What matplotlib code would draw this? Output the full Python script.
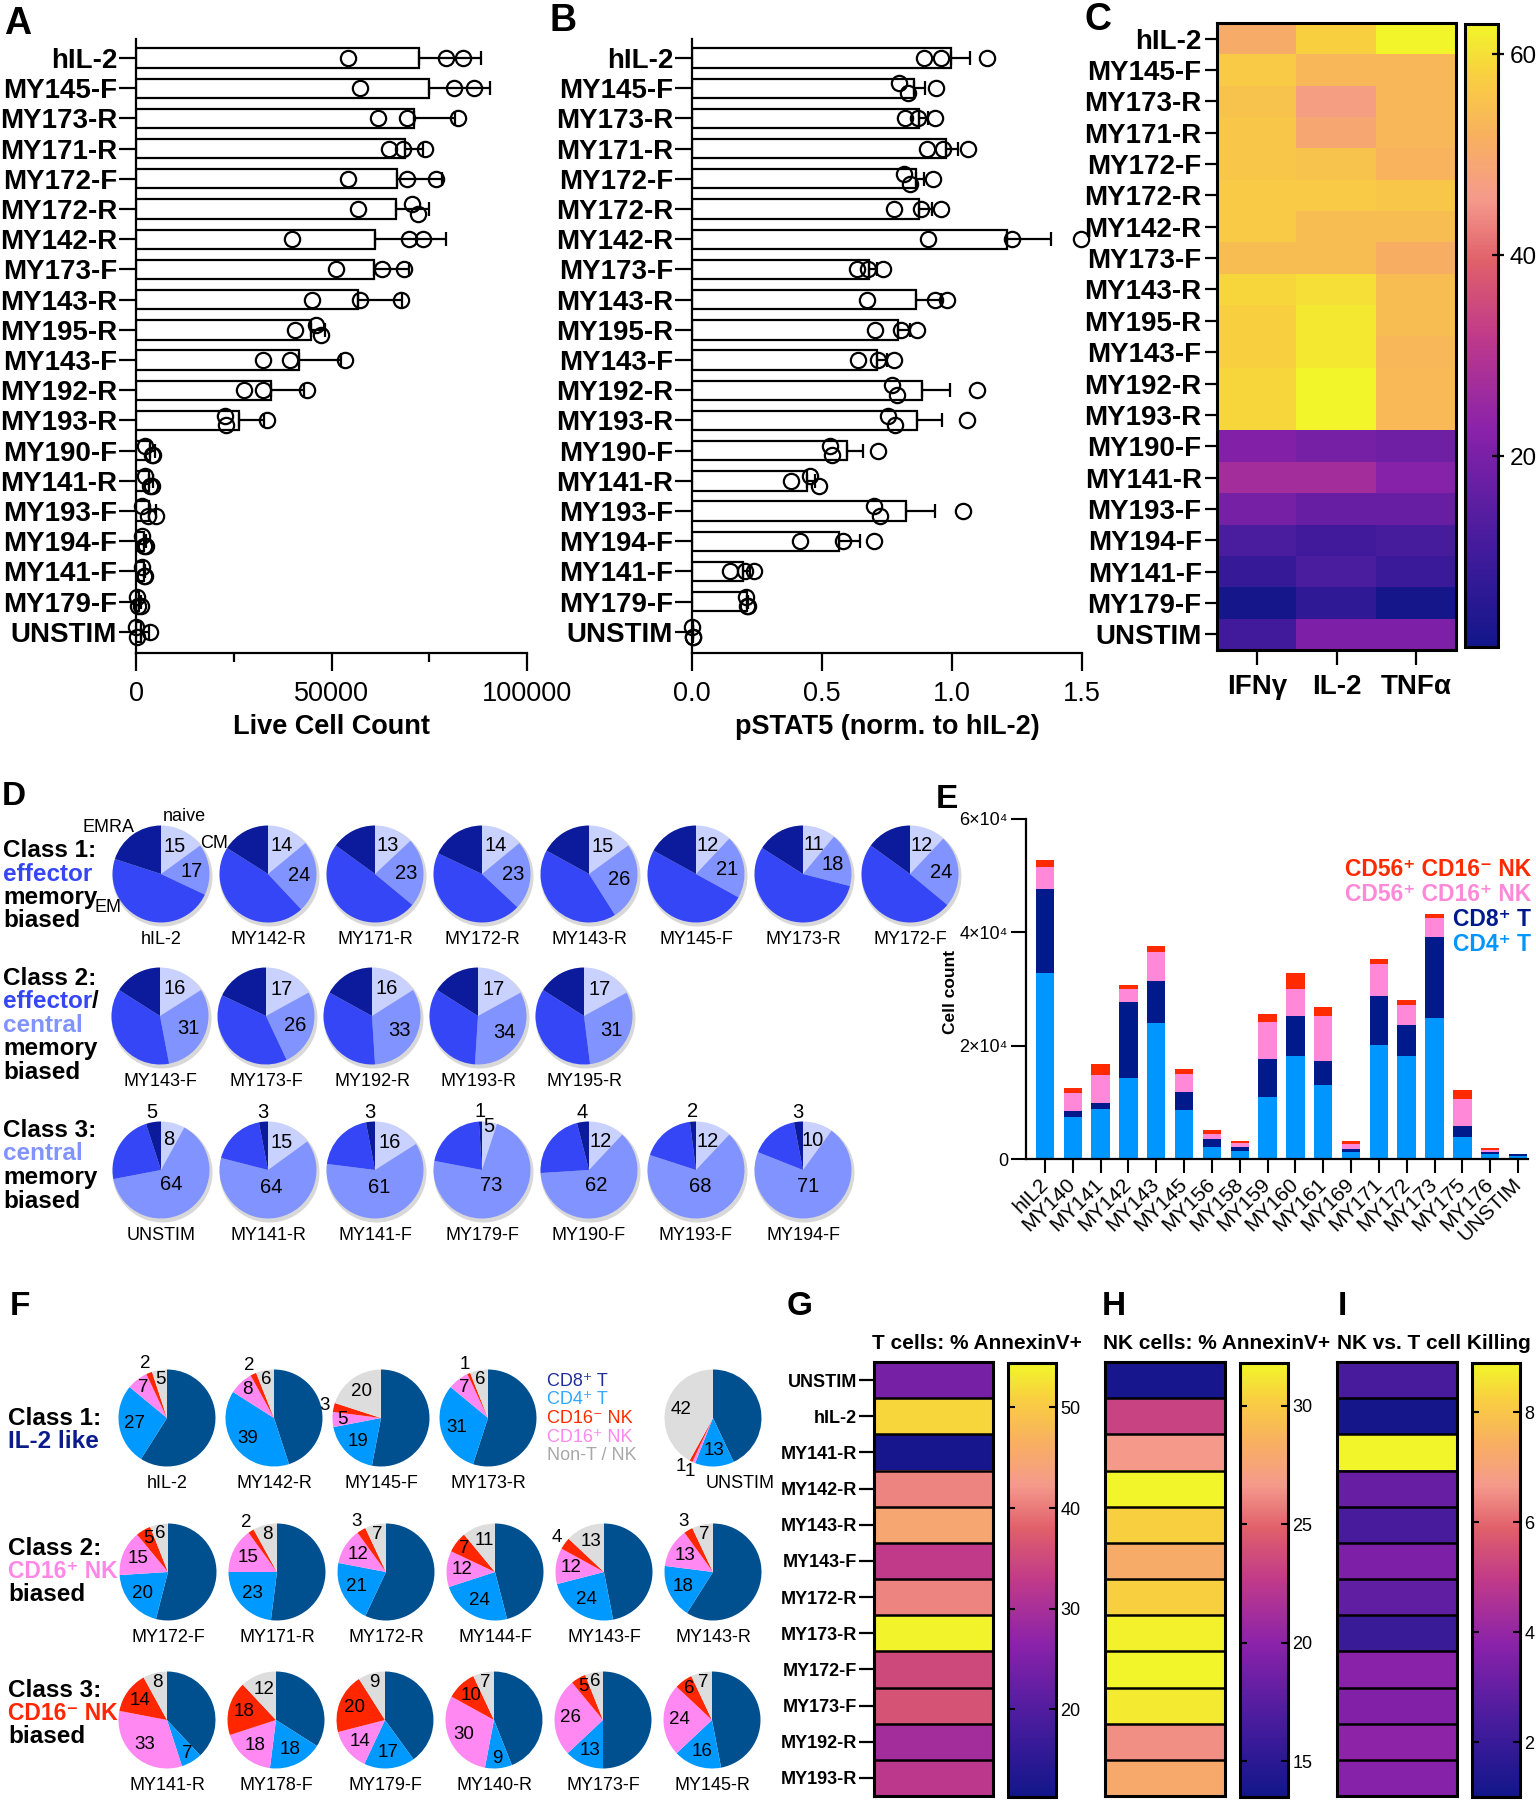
import numpy as np
import matplotlib
matplotlib.use('Agg')
import matplotlib.pyplot as plt
from matplotlib.colors import LinearSegmentedColormap
from matplotlib.patches import Circle

plt.rcParams['font.family'] = ['Liberation Sans', 'DejaVu Sans']
plt.rcParams['axes.linewidth'] = 1.6

W, H = 1536, 1800

# ---------------- data: panels A-C ----------------
agonists = ['hIL-2', 'MY145-F', 'MY173-R', 'MY171-R', 'MY172-F', 'MY172-R',
            'MY142-R', 'MY173-F', 'MY143-R', 'MY195-R', 'MY143-F', 'MY192-R',
            'MY193-R', 'MY190-F', 'MY141-R', 'MY193-F', 'MY194-F', 'MY141-F',
            'MY179-F', 'UNSTIM']

# three replicates per agonist
live_cells = [
    [54100, 79300, 83600], [57300, 81300, 86500], [61800, 69200, 82300],
    [64700, 68200, 73800], [54100, 69200, 76700], [56900, 70600, 72100],
    [40000, 69700, 73300], [51100, 63000, 68500], [45000, 57300, 67700],
    [40600, 46100, 47300], [32600, 39400, 53400], [27700, 32400, 43800],
    [22800, 23000, 33600], [2300, 4100, 4400], [2300, 3700, 4100],
    [1600, 3000, 5200], [1600, 2100, 2600], [1600, 2000, 2300],
    [300, 600, 1200], [0, 300, 3700],
]
pstat5 = [
    [0.894, 0.957, 1.136], [0.796, 0.830, 0.937], [0.820, 0.868, 0.933],
    [0.905, 0.967, 1.063], [0.816, 0.840, 0.926], [0.778, 0.881, 0.957],
    [0.908, 1.230, 1.495], [0.635, 0.675, 0.734], [0.672, 0.936, 0.981],
    [0.702, 0.805, 0.867], [0.638, 0.716, 0.775], [0.768, 0.789, 1.097],
    [0.754, 0.782, 1.056], [0.531, 0.539, 0.717], [0.380, 0.455, 0.490],
    [0.700, 0.724, 1.043], [0.414, 0.579, 0.700], [0.147, 0.202, 0.240],
    [0.206, 0.213, 0.215], [0.000, 0.003, 0.005],
]
cyto_names = ['IFNγ', 'IL-2', 'TNFα']
cyto_pct = [
    [50.6, 58.0, 63.0], [56.8, 53.1, 53.1], [55.6, 46.9, 53.1],
    [56.2, 49.4, 53.1], [56.2, 55.6, 52.5], [56.8, 56.8, 56.2],
    [56.8, 54.3, 54.3], [54.3, 54.3, 51.2], [58.7, 59.9, 54.3],
    [58.0, 61.1, 54.3], [58.0, 61.1, 53.1], [58.7, 63.0, 53.7],
    [58.7, 63.0, 53.7], [21.5, 19.6, 18.4], [27.0, 27.0, 22.1],
    [19.6, 17.1, 17.1], [12.2, 10.3, 11.5], [8.4, 12.2, 9.1],
    [2.2, 7.2, 1.6], [10.3, 20.8, 20.8],
]

# ---------------- data: panel D (naive, CM, EM, EMRA %) ----------------
mem_colors = ['#c9d1ff', '#8193ff', '#3546f7', '#0b1b9b']
mem_c1_names = ['hIL-2', 'MY142-R', 'MY171-R', 'MY172-R', 'MY143-R', 'MY145-F', 'MY173-R', 'MY172-F']
mem_c1 = [[15, 17, 48, 20], [14, 24, 46, 16], [13, 23, 49, 15], [14, 23, 45, 18],
          [15, 26, 42, 17], [12, 21, 50, 17], [11, 18, 55, 16], [12, 24, 49, 15]]
mem_c2_names = ['MY143-F', 'MY173-F', 'MY192-R', 'MY193-R', 'MY195-R']
mem_c2 = [[16, 31, 37, 16], [17, 26, 39, 18], [16, 33, 34, 17], [17, 34, 33, 16], [17, 31, 36, 16]]
mem_c3_names = ['UNSTIM', 'MY141-R', 'MY141-F', 'MY179-F', 'MY190-F', 'MY193-F', 'MY194-F']
mem_c3 = [[8, 64, 23, 5], [15, 64, 18, 3], [16, 61, 20, 3], [5, 73, 21, 1],
          [12, 62, 22, 4], [12, 68, 18, 2], [10, 71, 16, 3]]

# ---------------- data: panel E (cell counts) ----------------
e_samples = ['hIL2', 'MY140', 'MY141', 'MY142', 'MY143', 'MY145', 'MY156', 'MY158', 'MY159',
             'MY160', 'MY161', 'MY169', 'MY171', 'MY172', 'MY173', 'MY175', 'MY176', 'UNSTIM']
e_cd4 = [32900, 7500, 8800, 14300, 24000, 8700, 2200, 1500, 11000, 18200, 13100, 1300,
         20100, 18100, 24900, 3900, 900, 600]
e_cd8 = [14700, 1000, 1150, 13400, 7400, 3100, 1300, 700, 6600, 7100, 4200, 500,
         8600, 5500, 14300, 2000, 300, 200]
e_nk16p = [4000, 3100, 4850, 2300, 5100, 3200, 1000, 600, 6500, 4700, 8000, 900,
           5700, 3500, 3300, 4700, 400, 50]
e_nk16n = [1200, 1000, 2000, 700, 1000, 800, 600, 400, 1500, 2800, 1500, 400,
           900, 900, 700, 1600, 400, 100]
e_labels = ['CD4⁺ T', 'CD8⁺ T', 'CD56⁺ CD16⁺ NK', 'CD56⁺ CD16⁻ NK']
e_colors = ['#0096ff', '#001a8c', '#ff88d8', '#ff2a00']

# ---------------- data: panel F (CD8, CD4, CD16+ NK, CD16- NK, non-T/NK %) ----------------
pop_colors = ['#00508f', '#0099ff', '#ff88f2', '#ff2600', '#dddddd']
pop_text_colors = ['#1f2d9c', '#33a6ff', '#ff2a00', '#ff88ee', '#a8a8a8']
pop_legend = ['CD8⁺ T', 'CD4⁺ T', 'CD16⁻ NK', 'CD16⁺ NK', 'Non-T / NK']
pop_c1_names = ['hIL-2', 'MY142-R', 'MY145-F', 'MY173-R']
pop_c1 = [[59, 27, 7, 2, 5], [45, 39, 8, 2, 6], [53, 19, 5, 3, 20], [55, 31, 7, 1, 6]]
pop_unstim = [43, 13, 1, 1, 42]
pop_c2_names = ['MY172-F', 'MY171-R', 'MY172-R', 'MY144-F', 'MY143-F', 'MY143-R']
pop_c2 = [[54, 20, 15, 5, 6], [52, 23, 15, 2, 8], [57, 21, 12, 3, 7],
          [46, 24, 12, 7, 11], [47, 24, 12, 4, 13], [59, 18, 13, 3, 7]]
pop_c3_names = ['MY141-R', 'MY178-F', 'MY179-F', 'MY140-R', 'MY173-F', 'MY145-R']
pop_c3 = [[38, 7, 33, 14, 8], [34, 18, 18, 18, 12], [40, 17, 14, 20, 9],
          [44, 9, 30, 10, 7], [50, 13, 26, 5, 6], [47, 16, 24, 6, 7]]

# ---------------- data: panels G-I ----------------
apop_rows = ['UNSTIM', 'hIL-2', 'MY141-R', 'MY142-R', 'MY143-R', 'MY143-F',
             'MY172-R', 'MY173-R', 'MY172-F', 'MY173-F', 'MY192-R', 'MY193-R']
t_annexin = [24.2, 51.4, 12.2, 40.6, 44.9, 32.9, 40.6, 54.2, 35.0, 36.3, 29.4, 32.4]
nk_annexin = [13.9, 23.2, 26.7, 31.8, 30.3, 28.1, 30.3, 31.6, 31.8, 31.3, 26.3, 28.0]
nk_vs_t = [2.4, 1.15, 8.9, 3.05, 2.4, 3.5, 2.9, 2.0, 3.75, 3.6, 3.85, 3.7]

heat_cmap = LinearSegmentedColormap.from_list('gp', [
    (0.0, '#12168a'), (0.18, '#4a1c9e'), (0.35, '#8a22aa'), (0.5, '#c03a8a'),
    (0.62, '#e0606a'), (0.72, '#f59a8c'), (0.82, '#f8b060'), (0.92, '#f9d040'),
    (1.0, '#f2f52a')])

fig = plt.figure(figsize=(W / 100, H / 100), dpi=100)


def box(l, t, r, b):
    return [l / W, 1 - b / H, (r - l) / W, (b - t) / H]


def txt(x, y, s, **kw):
    kw.setdefault('va', 'baseline')
    return fig.text(x / W, 1 - y / H, s, **kw)


def dot_bars(ax, pts, sem, xmax):
    pts = np.asarray(pts, float)
    y = np.arange(len(pts))
    mean = pts.mean(axis=1)
    err = pts.std(axis=1, ddof=1)
    if sem:
        err = err / np.sqrt(pts.shape[1])
    ax.barh(y, mean, height=0.64, color='white', edgecolor='black', linewidth=1.6, zorder=2)
    ax.errorbar(mean, y, xerr=[np.zeros(len(y)), err], fmt='none', ecolor='black',
                elinewidth=1.6, capsize=5, capthick=1.6, zorder=3)
    tol = 0.025 * xmax
    for i, row in enumerate(pts):
        off = np.zeros(len(row))
        order = np.argsort(row)
        for a, b in zip(order[:-1], order[1:]):
            if row[b] - row[a] < tol:
                if off[a] == 0:
                    off[a] = -0.16
                off[b] = 0.16
        ax.plot(row, i + off, 'o', ms=11, mfc='none', mec='black', mew=1.6,
                zorder=4, clip_on=False)
    ax.set_ylim(len(pts) - 0.3, -0.63)
    ax.set_yticks(y, agonists, fontsize=20, fontweight='bold')
    ax.set_xlim(0, xmax)
    for s in ['top', 'right']:
        ax.spines[s].set_visible(False)
    ax.tick_params(axis='y', length=12.5, width=1.6, pad=1)
    ax.tick_params(axis='x', length=13, width=1.6, labelsize=19.5, pad=7)


# ---- A ----
axA = fig.add_axes(box(136, 39, 527, 653))
dot_bars(axA, live_cells, False, 100000)
axA.set_xticks([0, 50000, 100000], ['0', '50000', '100000'])
axA.set_xticks([25000, 75000], minor=True)
axA.tick_params(axis='x', which='minor', length=6.5, width=1.6)
axA.set_xlabel('Live Cell Count', fontsize=19.5, fontweight='bold', labelpad=5)

# ---- B ----
axB = fig.add_axes(box(692, 39, 1082, 653))
dot_bars(axB, pstat5, True, 1.5)
axB.set_xticks([0, 0.5, 1.0, 1.5], ['0.0', '0.5', '1.0', '1.5'])
axB.set_xlabel('pSTAT5 (norm. to hIL-2)', fontsize=19.5, fontweight='bold', labelpad=5)

# ---- C ----
axC = fig.add_axes(box(1217, 23, 1456, 650))
imC = axC.imshow(np.array(cyto_pct), cmap=heat_cmap, vmin=1, vmax=63, aspect='auto',
                 interpolation='nearest')
axC.set_yticks(range(len(agonists)), agonists, fontsize=20, fontweight='bold')
axC.set_xticks(range(len(cyto_names)), cyto_names, fontsize=20, fontweight='bold')
axC.tick_params(axis='y', length=9, width=1.6, pad=2)
axC.tick_params(axis='x', length=11, width=1.6, pad=6)
for s in axC.spines.values():
    s.set_linewidth(2.2)
caxC = fig.add_axes(box(1465, 24, 1498, 647))
cbC = fig.colorbar(imC, cax=caxC, ticks=[20, 40, 60])
cbC.outline.set_linewidth(2.2)
caxC.tick_params(direction='inout', length=9, width=1.6, labelsize=17.5, pad=4)

# ---- E ----
axE = fig.add_axes(box(1026, 819, 1528, 1159))
xe = np.arange(len(e_samples))
base = np.zeros(len(xe))
for vals, col in zip([e_cd4, e_cd8, e_nk16p, e_nk16n], e_colors):
    axE.bar(xe, vals, bottom=base, width=0.66, color=col, linewidth=0)
    base += np.array(vals)
axE.set_xlim(-0.68, len(xe) - 0.64)
axE.set_ylim(0, 60000)
axE.set_yticks([0, 20000, 40000, 60000], ['0', '2×10⁴', '4×10⁴', '6×10⁴'])
axE.set_xticks(xe, e_samples, rotation=45, ha='right', va='center', rotation_mode='anchor')
axE.tick_params(axis='x', length=10, width=1.5, labelsize=15, pad=6)
axE.tick_params(axis='y', length=11, width=1.5, labelsize=13, pad=2)
for s in ['top', 'right']:
    axE.spines[s].set_visible(False)
axE.set_ylabel('Cell count', fontsize=12.5, fontweight='bold')
axE.yaxis.set_label_coords(-0.135, 0.49)
for k, (lab, col) in enumerate(zip(e_labels[::-1], e_colors[::-1])):
    txt(1531, 876 + 25 * k, lab, ha='right', color=col, fontsize=16.5, fontweight='bold')


# ---- G, H, I ----
def strip(l, r, vals, vmin, vmax, ticks, labels=None):
    ax = fig.add_axes(box(l, 1362, r, 1796))
    im = ax.imshow(np.array(vals)[:, None], cmap=heat_cmap, vmin=vmin, vmax=vmax,
                   aspect='auto', interpolation='nearest')
    for k in range(1, len(vals)):
        ax.axhline(k - 0.5, color='black', lw=1.8)
    ax.set_xticks([])
    if labels:
        ax.set_yticks(range(len(vals)), labels, fontsize=13, fontweight='bold')
        ax.tick_params(axis='y', length=11, width=1.6, pad=1)
    else:
        ax.set_yticks([])
    for s in ax.spines.values():
        s.set_linewidth(2.2)
    cax = fig.add_axes(box(r + 15, 1363, r + 63, 1797))
    cb = fig.colorbar(im, cax=cax, ticks=ticks)
    cb.outline.set_linewidth(2.2)
    cax.tick_params(direction='in', left=True, right=True, length=5, width=1.5,
                    labelsize=13, pad=3)


strip(874, 993, t_annexin, 11.3, 54.4, [20, 30, 40, 50], apop_rows)
strip(1105, 1225, nk_annexin, 13.5, 31.8, [15, 20, 25, 30])
strip(1337, 1457, nk_vs_t, 1.0, 8.9, [2, 4, 6, 8])
txt(872, 1349, 'T cells: % AnnexinV+', fontsize=15, fontweight='bold')
txt(1103, 1349, 'NK cells: % AnnexinV+', fontsize=15, fontweight='bold')
txt(1337, 1349, 'NK vs. T cell Killing', fontsize=15, fontweight='bold')

# ---- pies (D, F) on a full-figure overlay ----
ov = fig.add_axes([0, 0, 1, 1], zorder=-1)


def pie_at(x, y, vals, colors, r, show, rad, fs, shadow=False):
    yy = H - y
    if shadow:
        ov.add_patch(Circle((x + 1.5, yy - 2.5), r + 1.5, color='#b8b8b8', alpha=0.55, lw=0))
    wedges, _ = ov.pie(vals, colors=colors, startangle=90, counterclock=False,
                       center=(x, yy), radius=r, frame=True, wedgeprops=dict(linewidth=0))
    last = None
    for k in show:
        w = wedges[k]
        a = (w.theta1 + w.theta2) / 2
        f = rad(k, vals[k])
        if f > 1 and last is not None and abs(a - last) < 10:
            a = last - 10      # nudge crowded outside labels apart (clockwise)
        if f > 1:
            last = a
        rr = r * f
        ov.text(x + rr * np.cos(np.deg2rad(a)), yy + rr * np.sin(np.deg2rad(a)), str(vals[k]),
                ha='center', va='center', fontsize=fs)


def mem_rad(k, v):
    if k == 3:
        return 1.2
    if k == 1 and v > 50:
        return 0.36
    if k == 0 and v < 8:
        return 0.9
    return 0.64


def pop_rad(k, v):
    if v < 5:
        return 1.2
    if v < 10:
        return 0.8
    return 0.68


def pie_row(names, rows, x0, dx, y, colors, show, rad, fs, shadow, name_dx=0):
    for i, (nm, vals) in enumerate(zip(names, rows)):
        x = x0 + dx * i
        pie_at(x, y, vals, colors, 48.5, show, rad, fs, shadow)
        txt(x + name_dx, y + 70, nm, ha='center', fontsize=13)


pie_row(mem_c1_names, mem_c1, 161, 107, 874, mem_colors, [0, 1], mem_rad, 14.5, True)
pie_row(mem_c2_names, mem_c2, 160, 106, 1016, mem_colors, [0, 1], mem_rad, 14.5, True)
pie_row(mem_c3_names, mem_c3, 161, 107, 1170, mem_colors, [0, 1, 3], mem_rad, 14.5, True)
pie_row(pop_c1_names, pop_c1, 167, 107, 1418, pop_colors, [1, 2, 3, 4], pop_rad, 13.5, False)
pie_row(['UNSTIM'], [pop_unstim], 713, 0, 1418, pop_colors, [1, 2, 3, 4], pop_rad, 13.5, False,
        name_dx=27)
pie_row(pop_c2_names, pop_c2, 168, 109, 1572, pop_colors, [1, 2, 3, 4], pop_rad, 13.5, False)
pie_row(pop_c3_names, pop_c3, 167, 109, 1720, pop_colors, [1, 2, 3, 4], pop_rad, 13.5, False)
ov.set_xlim(0, W)
ov.set_ylim(0, H)
ov.axis('off')

# D subset names around first pie
for s, dx, dy in [('naive', 23, -58), ('EMRA', -53, -47), ('CM', 53, -30), ('EM', -53, 34)]:
    txt(161 + dx, 874 + dy, s, ha='center', va='center', fontsize=13)

# F legend
for k, (lab, col) in enumerate(zip(pop_legend, pop_text_colors)):
    txt(547, 1386 + 18.5 * k, lab, color=col, fontsize=13)

# class descriptions
bold = dict(fontsize=17.5, fontweight='bold')
txt(3, 857, 'Class 1:', **bold)
txt(3, 880.5, 'effector', color='#3546f7', **bold)
txt(3, 904, 'memory', **bold)
txt(3, 927.5, 'biased', **bold)
txt(3, 985, 'Class 2:', **bold)
t_eff = txt(3, 1008.5, 'effector', color='#3546f7', **bold)
fig.canvas.draw()
bb = t_eff.get_window_extent()
fig.text(bb.x1 / W, 1 - 1008.5 / H, '/', va='baseline', **bold)
txt(3, 1032, 'central', color='#8193ff', **bold)
txt(3, 1055.5, 'memory', **bold)
txt(3, 1079, 'biased', **bold)
txt(3, 1137, 'Class 3:', **bold)
txt(3, 1160.5, 'central', color='#8193ff', **bold)
txt(3, 1184, 'memory', **bold)
txt(3, 1207.5, 'biased', **bold)

txt(8, 1425, 'Class 1:', **bold)
txt(8, 1448, 'IL-2 like', color='#0b1b8c', **bold)
txt(8, 1555, 'Class 2:', **bold)
txt(8, 1578, 'CD16⁺ NK', color='#ff88e6', fontsize=16.5, fontweight='bold')
txt(8, 1601, 'biased', **bold)
txt(8, 1697, 'Class 3:', **bold)
txt(8, 1720, 'CD16⁻ NK', color='#ff2600', fontsize=16.5, fontweight='bold')
txt(8, 1743, 'biased', **bold)

# panel letters
for s, x, y, fs in [('A', 4, 34, 27), ('B', 549, 31, 27), ('C', 1085, 30, 27),
                    ('D', 2, 805, 24), ('E', 936, 808, 24), ('F', 10, 1315, 24),
                    ('G', 787, 1315, 24), ('H', 1102, 1315, 24), ('I', 1338, 1315, 24)]:
    txt(x, y, s, fontsize=fs, fontweight='bold')

fig.savefig('out.png', dpi=100, facecolor='white')
